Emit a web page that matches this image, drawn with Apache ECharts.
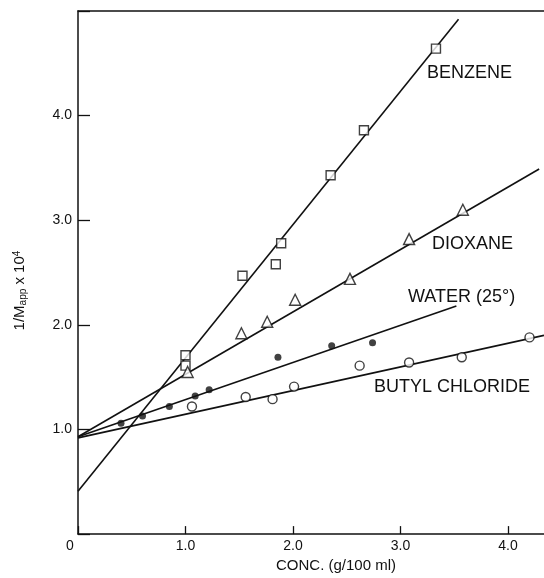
<!DOCTYPE html>
<html>
<head>
<meta charset="utf-8">
<script src="https://cdn.jsdelivr.net/npm/echarts@6/dist/echarts.min.js"></script>
<style>
  html, body { margin: 0; padding: 0; background: #fff; }
  #chart { width: 544px; height: 578px; }
</style>
</head>
<body>
<div id="chart"></div>
<script>
// measured points, [conc g/100ml, 1/Mapp x 10^4]
let benzenePts = [[1.00, 1.71], [1.00, 1.61], [1.53, 2.47], [1.84, 2.58], [1.89, 2.78], [2.35, 3.43], [2.66, 3.86], [3.33, 4.64]];
let dioxanePts = [[1.02, 1.55], [1.52, 1.92], [1.76, 2.03], [2.02, 2.24], [2.53, 2.44], [3.08, 2.82], [3.58, 3.10]];
let waterPts = [[0.40, 1.06], [0.60, 1.13], [0.85, 1.22], [1.09, 1.32], [1.22, 1.38], [1.86, 1.69], [2.36, 1.80], [2.74, 1.83]];
let butylPts = [[1.06, 1.22], [1.56, 1.31], [1.81, 1.29], [2.01, 1.41], [2.62, 1.61], [3.08, 1.64], [3.57, 1.69], [4.20, 1.88]];

// straight fit lines, start and end
let benzeneFit = [[0, 0.41], [3.54, 4.92]];
let dioxaneFit = [[0, 0.93], [4.29, 3.49]];
let waterFit = [[0, 0.93], [3.52, 2.18]];
let butylFit = [[0, 0.92], [4.335, 1.90]];

let xTicks = [0, 1, 2, 3, 4];
let yTicks = [1, 2, 3, 4];

let ink = '#111';
let chart = echarts.init(document.getElementById('chart'));

function fitLine(data) {
    return {
        type: 'line', data: data, symbol: 'none', z: 2,
        lineStyle: {color: ink, width: 1.6}, silent: true
    };
}
function pts(data, symbol, size, filled) {
    return {
        type: 'scatter', data: data, symbol: symbol, symbolSize: size, z: 3,
        itemStyle: {color: filled ? ink : '#fff', borderColor: ink, borderWidth: filled ? 0 : 1.4}
    };
}

let labelFont = {fill: ink, font: '18px "Liberation Sans"'};

chart.setOption({
    backgroundColor: '#fff',
    animation: false,
    grid: {left: 78, right: 0, top: 11, bottom: 40},
    xAxis: [{
        type: 'value', min: 0, max: 4.335, interval: 1,
        name: 'CONC. (g/100 ml)', nameLocation: 'middle', nameGap: 22,
        nameTextStyle: {color: ink, fontSize: 15, fontFamily: 'Liberation Sans', padding: [0, 0, 0, 50]},
        axisLine: {lineStyle: {color: ink, width: 1.5}},
        axisTick: {inside: true, length: 8, lineStyle: {color: ink, width: 1.3}},
        splitLine: {show: false},
        axisLabel: {
            color: ink, fontSize: 14, fontFamily: 'Liberation Sans', margin: 5,
            showMaxLabel: false,
            formatter: function (v) {
                if (v === 0) return '{z|0}';
                return xTicks.indexOf(v) >= 0 ? v.toFixed(1) : '';
            },
            rich: {z: {fontSize: 14, fontFamily: 'Liberation Sans', color: ink, padding: [0, 16, 0, 0]}}
        }
    }, {
        type: 'value', position: 'top', min: 0, max: 4.335,
        axisLine: {show: true, onZero: false, lineStyle: {color: ink, width: 1.5}},
        axisTick: {show: false}, axisLabel: {show: false}, splitLine: {show: false}
    }],
    yAxis: {
        type: 'value', min: 0, max: 5, interval: 1,
        name: '{n|1/M}{s|app}{n| x 10}{p|4}', nameLocation: 'middle', nameGap: 50, nameRotate: 90,
        nameTextStyle: {
            color: ink, padding: [0, 36, 0, 0],
            rich: {
                n: {fontSize: 15, fontFamily: 'Liberation Sans', color: ink},
                s: {fontSize: 10, fontFamily: 'Liberation Sans', color: ink, verticalAlign: 'bottom', padding: [6, 0, 0, 0]},
                p: {fontSize: 10, fontFamily: 'Liberation Sans', color: ink, verticalAlign: 'top', padding: [0, 0, 6, 0]}
            }
        },
        axisLine: {show: true, lineStyle: {color: ink, width: 1.5}},
        axisTick: {inside: true, length: 12, lineStyle: {color: ink, width: 1.3}},
        splitLine: {show: false},
        axisLabel: {
            color: ink, fontSize: 14, fontFamily: 'Liberation Sans', margin: 6,
            formatter: function (v) { return yTicks.indexOf(v) >= 0 ? v.toFixed(1) : ''; }
        }
    },
    series: [
        fitLine(benzeneFit), fitLine(dioxaneFit), fitLine(waterFit), fitLine(butylFit),
        pts(benzenePts, 'rect', 9, false),
        pts(dioxanePts, 'triangle', 11, false),
        pts(waterPts, 'circle', 7, true),
        pts(butylPts, 'circle', 9, false)
    ],
    graphic: [
        {type: 'text', left: 427, top: 64, style: Object.assign({text: 'BENZENE'}, labelFont)},
        {type: 'text', left: 432, top: 235, style: Object.assign({text: 'DIOXANE'}, labelFont)},
        {type: 'text', left: 408, top: 288, style: Object.assign({text: 'WATER (25°)'}, labelFont)},
        {type: 'text', left: 374, top: 378, style: Object.assign({text: 'BUTYL CHLORIDE'}, labelFont)}
    ]
});
</script>
</body>
</html>
